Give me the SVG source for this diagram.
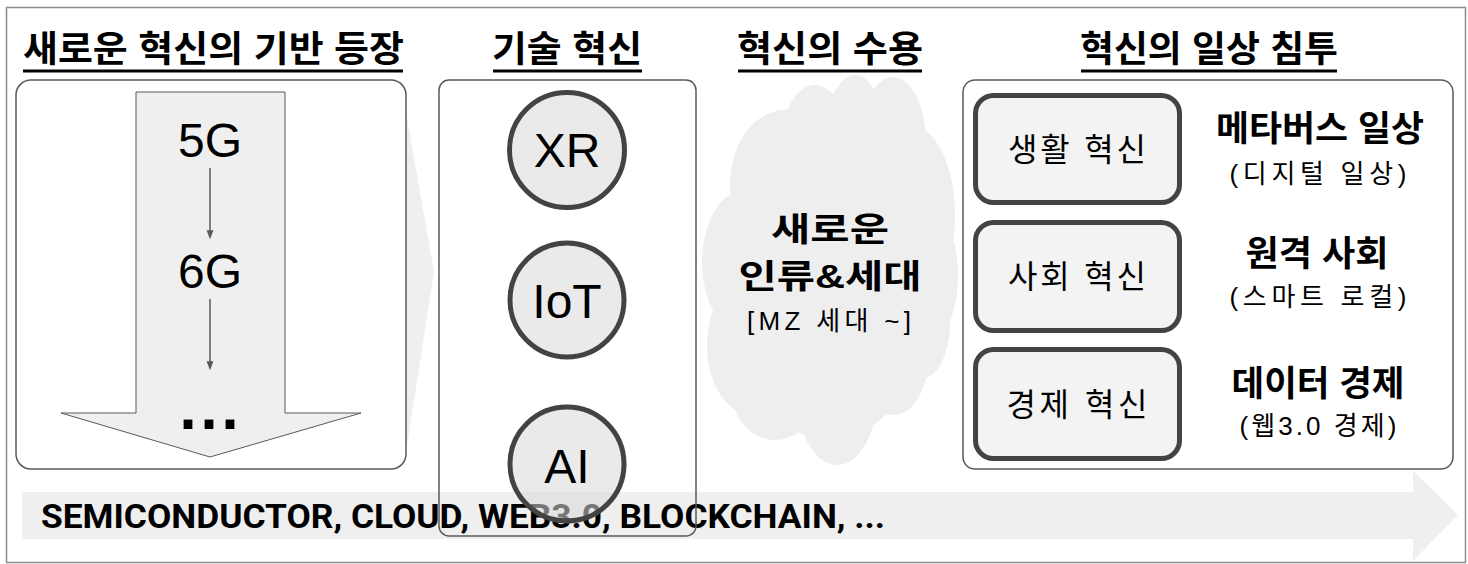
<svg xmlns="http://www.w3.org/2000/svg" width="1468" height="564" viewBox="0 0 1468 564">
<defs>
<marker id="ah" markerWidth="9" markerHeight="12" refX="9" refY="4.5" orient="auto" markerUnits="userSpaceOnUse" viewBox="0 0 12 9">
<path d="M0,0 L12,4.5 L0,9 Z" fill="#595959"/>
</marker>
</defs>
<style>
.ko{font-family:"Liberation Sans","Noto Sans CJK KR",sans-serif;fill:#000}
.title{font-size:36px;font-weight:bold}
.ul{stroke:#000;stroke-width:3}
.panel{fill:#fff;stroke:#595959;stroke-width:1.5}
.circ{fill:#d9d9d9;fill-opacity:0.55;stroke:#434343;stroke-width:5}
.ibox{fill:#f3f3f3;stroke:#434343;stroke-width:5}
.big{font-size:48px}
.boxt{font-size:32px}
.rt{font-size:35px;font-weight:bold}
.st{font-size:26px}
.cloud ellipse{fill:#eeeeee}
</style>
<rect x="6.5" y="7.5" width="1459" height="555" fill="#fff" stroke="#8c8c8c" stroke-width="1.5"/>

<g id="chevron"><polygon points="406,112 434,272 406,452" fill="#efefef"/></g>

<g id="base-arrow">
<polygon points="22,492 1413,492 1413,471 1458,515 1413,561 1413,539 22,539" fill="#efefef"/>
<text x="41" y="528" font-family="Roboto,'Liberation Sans',sans-serif" font-weight="bold" font-size="33" textLength="844" lengthAdjust="spacingAndGlyphs">SEMICONDUCTOR, CLOUD, WEB3.0, BLOCKCHAIN, ...</text>
</g>

<g id="titles">
<text class="ko title" x="23" y="62" textLength="381" lengthAdjust="spacingAndGlyphs">새로운 혁신의 기반 등장</text>
<line class="ul" x1="23" y1="71" x2="403" y2="71"/>
<text class="ko title" x="492" y="62" textLength="150" lengthAdjust="spacingAndGlyphs">기술 혁신</text>
<line class="ul" x1="493" y1="71" x2="642" y2="71"/>
<text class="ko title" x="737" y="62" textLength="186" lengthAdjust="spacingAndGlyphs">혁신의 수용</text>
<line class="ul" x1="738" y1="71" x2="922" y2="71"/>
<text class="ko title" x="1080" y="62" textLength="258" lengthAdjust="spacingAndGlyphs">혁신의 일상 침투</text>
<line class="ul" x1="1081" y1="71" x2="1337" y2="71"/>
</g>

<g id="foundation">
<rect class="panel" x="16" y="80" width="390" height="389" rx="15"/>
<polygon points="136,92 285,92 285,413 361,413 210,457 61,413 136,413" fill="#efefef" stroke="#595959" stroke-width="1"/>
<text class="ko big" x="210" y="157" text-anchor="middle">5G</text>
<text class="ko big" x="210" y="288" text-anchor="middle">6G</text>
<text x="210" y="429" text-anchor="middle" font-family="'DejaVu Sans',sans-serif" font-weight="bold" font-size="50" letter-spacing="2">...</text>
</g>

<g id="connectors" stroke="#595959" stroke-width="1.5">
<line x1="210" y1="168" x2="210" y2="237" marker-end="url(#ah)"/>
<line x1="210" y1="299" x2="210" y2="368" marker-end="url(#ah)"/>
</g>

<g id="tech">
<rect x="439" y="80" width="257" height="456" rx="10" fill="none" stroke="#595959" stroke-width="1.5"/>
<g id="xr"><circle class="circ" cx="567" cy="150" r="57.5"/><text class="ko big" x="567" y="167" text-anchor="middle">XR</text></g>
<g id="iot"><circle class="circ" cx="567" cy="300" r="57"/><text class="ko big" x="567" y="318" text-anchor="middle">IoT</text></g>
<g id="ai"><circle class="circ" cx="567" cy="464" r="57"/><text class="ko big" x="567" y="483" text-anchor="middle">AI</text></g>
</g>

<g id="acceptance">
<g class="cloud">
<ellipse cx="830" cy="275" rx="105" ry="165"/>
<ellipse cx="785" cy="185" rx="55" ry="75"/>
<ellipse cx="815" cy="150" rx="35" ry="65"/>
<ellipse cx="855" cy="140" rx="30" ry="65"/>
<ellipse cx="893" cy="142" rx="33" ry="65"/>
<ellipse cx="910" cy="215" rx="45" ry="90"/>
<ellipse cx="915" cy="275" rx="43" ry="80"/>
<ellipse cx="745" cy="262" rx="43" ry="72"/>
<ellipse cx="752" cy="345" rx="45" ry="70"/>
<ellipse cx="775" cy="385" rx="45" ry="55"/>
<ellipse cx="837" cy="395" rx="40" ry="70"/>
<ellipse cx="893" cy="360" rx="35" ry="55"/>
<ellipse cx="918" cy="325" rx="32" ry="55"/>
</g>
<text class="ko" x="830" y="241" text-anchor="middle" font-size="33" font-weight="bold" textLength="118" lengthAdjust="spacingAndGlyphs">새로운</text>
<text class="ko" x="830" y="288" text-anchor="middle" font-size="33" font-weight="bold" textLength="183" lengthAdjust="spacingAndGlyphs">인류&amp;세대</text>
<text class="ko" x="829" y="330" text-anchor="middle" font-size="26" textLength="164" lengthAdjust="spacing">[MZ 세대 ~]</text>
</g>

<g id="daily">
<rect class="panel" x="963" y="80" width="490" height="389" rx="12"/>
<g id="life">
<rect class="ibox" x="975.5" y="95.5" width="204" height="107" rx="18"/>
<text class="ko boxt" x="1077" y="161" text-anchor="middle" textLength="138" lengthAdjust="spacing">생활 혁신</text>
<text class="ko rt" x="1320" y="141" text-anchor="middle" textLength="208" lengthAdjust="spacingAndGlyphs">메타버스 일상</text>
<text class="ko st" x="1318" y="183" text-anchor="middle" textLength="177" lengthAdjust="spacing">(디지털 일상)</text>
</g>
<g id="society">
<rect class="ibox" x="975.5" y="222.5" width="204" height="108" rx="18"/>
<text class="ko boxt" x="1077" y="288" text-anchor="middle" textLength="138" lengthAdjust="spacing">사회 혁신</text>
<text class="ko rt" x="1317" y="266" text-anchor="middle" textLength="143" lengthAdjust="spacingAndGlyphs">원격 사회</text>
<text class="ko st" x="1318" y="306" text-anchor="middle" textLength="177" lengthAdjust="spacing">(스마트 로컬)</text>
</g>
<g id="economy">
<rect class="ibox" x="975.5" y="349.5" width="204" height="109" rx="18"/>
<text class="ko boxt" x="1077" y="416" text-anchor="middle" textLength="141" lengthAdjust="spacing">경제 혁신</text>
<text class="ko rt" x="1318" y="396" text-anchor="middle" textLength="173" lengthAdjust="spacingAndGlyphs">데이터 경제</text>
<text class="ko st" x="1318" y="435" text-anchor="middle" textLength="157" lengthAdjust="spacing">(웹3.0 경제)</text>
</g>
</g>
</svg>
